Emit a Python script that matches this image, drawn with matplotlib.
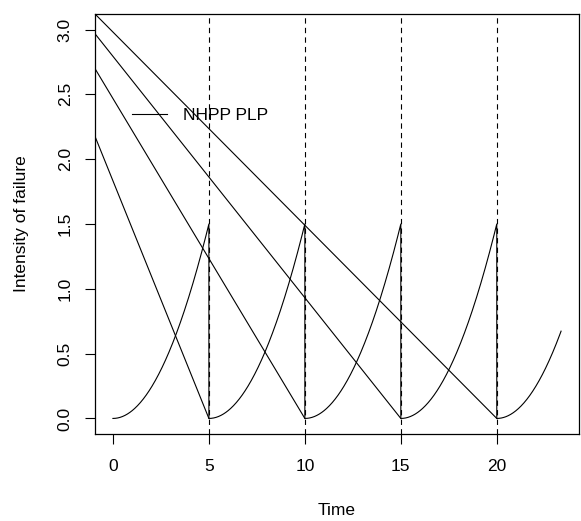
import numpy as np
import matplotlib
matplotlib.use("Agg")
import matplotlib.pyplot as plt

plt.rcParams['font.family'] = ['Liberation Sans', 'DejaVu Sans']

# renewal period and PLP intensity
period = 5.0
peak = 1.5          # intensity just before each reset
shape_exp = 2.0     # beta - 1 of the power law
t_end = 23.35       # last observed time

# straight decreasing lines: value at t = -1 and time where they reach 0
line_start_t = -1.0
line_start_y = [2.20, 2.715, 2.98, 3.13]
line_end_t = [5, 10, 15, 20]

reset_times = [5, 10, 15, 20]
xticks = [0, 5, 10, 15, 20]
yticks = [0.0, 0.5, 1.0, 1.5, 2.0, 2.5, 3.0]
ytick_labels = ["0.0", "0.5", "1.0", "1.5", "2.0", "2.5", "3.0"]

fs = 12.5

fig = plt.figure(figsize=(5.81, 5.21), dpi=100)
ax = fig.add_axes([95/581, 1-434/521, 484/581, 420/521])

# NHPP PLP intensity, reset to zero at every renewal
tt = []
yy = []
starts = np.arange(0, t_end, period)
for s in starts:
    e = min(s + period, t_end)
    tau = np.linspace(0, e - s, 200)
    tt.append(s + tau)
    yy.append(peak * (tau / period) ** shape_exp)
tt = np.concatenate(tt)
yy = np.concatenate(yy)
ax.plot(tt, yy, color='black', lw=0.8, label='NHPP PLP')

for y0, te in zip(line_start_y, line_end_t):
    ax.plot([line_start_t, te], [y0, 0], color='black', lw=0.8)

for r in reset_times:
    ax.axvline(r, color='black', lw=0.8, linestyle=(0, (4.8, 3.8)))

ax.set_xlim(-0.04 * t_end, t_end * 1.04)
ax.set_ylim(-0.12, 3.12)
ax.set_xticks(xticks)
ax.set_yticks(yticks)
ax.set_yticklabels(ytick_labels, rotation=90, va='center')
ax.tick_params(axis='both', labelsize=fs, length=7, width=0.8, direction='out')
ax.tick_params(axis='x', pad=11)
ax.tick_params(axis='y', pad=9)
for sp in ax.spines.values():
    sp.set_linewidth(0.9)

ax.set_xlabel("Time", fontsize=fs)
ax.set_ylabel("Intensity of failure", fontsize=fs)
ax.xaxis.set_label_coords(0.5, -(503 - 434) / 420)
ax.yaxis.set_label_coords(-(95 - 29) / 484, 0.5)

ax.legend(loc='center left', bbox_to_anchor=(0.076, 0.758), frameon=False,
          fontsize=fs, handlelength=2.0, handletextpad=0.95,
          borderaxespad=0, borderpad=0)

fig.savefig("out.png", dpi=100)
